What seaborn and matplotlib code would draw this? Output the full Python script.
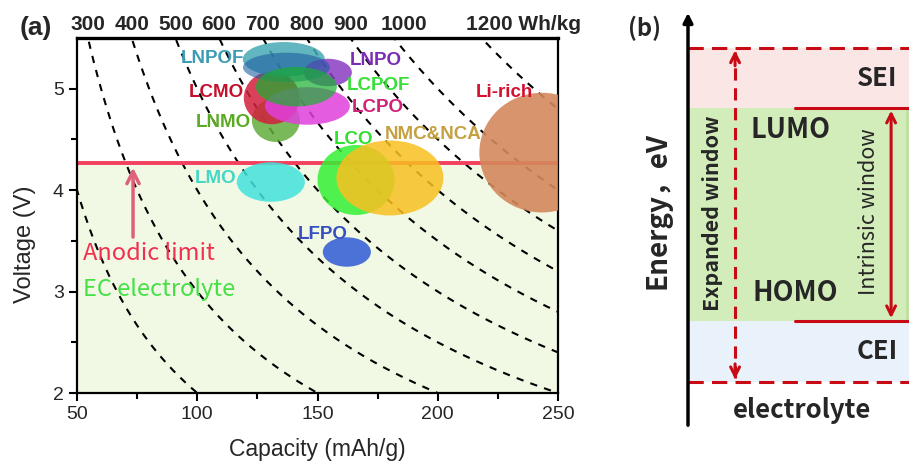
import numpy as np
import pandas as pd
import seaborn as sns
import matplotlib.pyplot as plt
from matplotlib.patches import Ellipse

# ---- panel (a) data ----
energy_levels = [200, 300, 400, 500, 600, 700, 800, 900, 1000, 1200]   # Wh/kg iso-lines
top_labels = ["300", "400", "500", "600", "700", "800", "900", "1000", "1200 Wh/kg"]
top_label_energy = [300, 400, 500, 600, 700, 800, 900, 1000, 1200]

bubble_names = ["LNMO", "LCMO", "LCPO", "LNPOF", "LNPO", "LNPOF-2", "LCPOF",
                "LMO", "LCO", "NMC&NCA", "LFPO", "Li-rich"]
bubble_cap = [132.7, 131.0, 145.8, 136.0, 154.3, 137.1, 141.2, 130.6, 166.0, 180.1, 162.2, 243.3]
bubble_volt = [4.69, 4.91, 4.83, 5.29, 5.16, 5.21, 5.02, 4.08, 4.10, 4.12, 3.39, 4.37]
bubble_cap_span = [20.0, 23.3, 35.3, 34.1, 20.0, 36.2, 33.7, 28.3, 32.0, 44.5, 20.0, 52.0]
bubble_volt_span = [0.43, 0.52, 0.37, 0.34, 0.27, 0.29, 0.39, 0.39, 0.69, 0.74, 0.29, 1.18]

label_names = ["LNPOF", "LNPO", "LCMO", "LCPOF", "LCPO", "LNMO", "LMO", "LCO",
               "NMC&NCA", "LFPO", "Li-rich"]
label_cap = [106.3, 174.3, 108.0, 175.5, 175.1, 110.9, 107.8, 165.1, 198.0, 152.2, 227.9]
label_volt = [5.30, 5.28, 4.96, 5.035, 4.81, 4.67, 4.11, 4.50, 4.55, 3.56, 4.96]

anodic_limit = 4.27
arrow_cap = 73.3
arrow_from = 3.51

# ---- panel (b) data (arbitrary energy units) ----
cei_bottom = 1.10
homo_level = 2.56
lumo_level = 7.66
sei_top = 9.10

# colours
bubble_colors = {"LNMO": "#62ad3c", "LCMO": "#d2203c", "LCPO": "#e040dc", "LNPOF": "#45a9b4",
                 "LNPO": "#8a3cc4", "LNPOF-2": "#1f5fa0", "LCPOF": "#18b030", "LMO": "#42e2dc",
                 "LCO": "#34f034", "NMC&NCA": "#f8c020", "LFPO": "#3a62d6", "Li-rich": "#d4885c"}
bubble_alpha = {"LNMO": 0.85, "LCMO": 0.85, "LCPO": 0.85, "LNPOF": 0.85, "LNPO": 0.85,
                "LNPOF-2": 0.6, "LCPOF": 0.7, "LMO": 0.85, "LCO": 0.85, "NMC&NCA": 0.85,
                "LFPO": 0.9, "Li-rich": 0.9}
label_colors = {"LNPOF": "#3d9cb2", "LNPO": "#7a2cb4", "LCMO": "#c4102c", "LCPOF": "#36e036",
                "LCPO": "#d0207a", "LNMO": "#5aaa22", "LMO": "#44d8c4", "LCO": "#30e030",
                "NMC&NCA": "#c4a040", "LFPO": "#3550c0", "Li-rich": "#d41030"}
RED = "#c80a14"

sns.set_theme(style="ticks")
plt.rcParams['font.family'] = ['Liberation Sans', 'DejaVu Sans']

fig = plt.figure(figsize=(9.09, 4.65), dpi=100)
ax = fig.add_axes([77 / 909, (465 - 393) / 465, 481 / 909, 355 / 465])

# background regions
ax.axhspan(2, anodic_limit, color="#f1f9e5", zorder=0, lw=0)

# iso-energy dashed curves V = E / C
cap_grid = np.linspace(40, 260, 400)
curves = pd.DataFrame([(e, c, e / c) for e in energy_levels for c in cap_grid],
                      columns=["energy", "capacity", "voltage"])
sns.lineplot(data=curves, x="capacity", y="voltage", units="energy", estimator=None,
             color="black", lw=1.5, linestyle=(0, (3.5, 3.5)), ax=ax, zorder=1)

ax.axhline(anodic_limit, color="#f2405e", lw=2.8, zorder=2)

for name, c, v, w, h in zip(bubble_names, bubble_cap, bubble_volt, bubble_cap_span, bubble_volt_span):
    ax.add_patch(Ellipse((c, v), w, h, facecolor=bubble_colors[name], edgecolor="none",
                         alpha=bubble_alpha[name], zorder=3))

for name, c, v in zip(label_names, label_cap, label_volt):
    ax.text(c, v, name, color=label_colors[name], fontsize=13.5, fontweight="bold",
            ha="center", va="center", zorder=4)

ax.annotate("", xy=(arrow_cap, anodic_limit - 0.02), xytext=(arrow_cap, arrow_from),
            arrowprops=dict(arrowstyle="->", color="#e0607a", lw=2.5, mutation_scale=22), zorder=2)
ax.text(52.5, 3.38, "Anodic limit", color="#f2304e", fontsize=17, ha="left", va="center",
        family=["Noto Sans CJK SC", "DejaVu Sans"])
ax.text(52.5, 3.02, "EC electrolyte", color="#44e044", fontsize=17, ha="left", va="center",
        family=["Noto Sans CJK SC", "DejaVu Sans"])

for lab, e in zip(top_labels, top_label_energy):
    if lab.startswith("1200"):
        ax.annotate(lab, xy=(e / 5.5, 5.5), xytext=(-11, 3), textcoords="offset points",
                    ha="left", va="bottom", fontsize=15, fontweight="bold")
    else:
        dx = 7 if e == 1000 else 0
        ax.annotate(lab, xy=(e / 5.5, 5.5), xytext=(dx, 3), textcoords="offset points",
                    ha="center", va="bottom", fontsize=15, fontweight="bold")

ax.set_xlim(50, 250)
ax.set_ylim(2, 5.5)
ax.set_xticks([50, 100, 150, 200, 250])
ax.set_xticks([75, 125, 175, 225], minor=True)
ax.set_yticks([2, 3, 4, 5])
ax.set_yticks([2.5, 3.5, 4.5], minor=True)
ax.tick_params(which="major", direction="out", length=6, width=1.5, labelsize=14, color="black")
ax.tick_params(which="minor", direction="out", length=4, width=1.5, color="black")
for s in ax.spines.values():
    s.set_linewidth(1.6)
    s.set_color("black")
ax.spines["top"].set_linewidth(2.4)
ax.set_xlabel("Capacity (mAh/g)", fontsize=16.5)
ax.set_ylabel("Voltage (V)", fontsize=17)
ax.xaxis.set_label_coords(0.5, -0.16)
ax.yaxis.set_label_coords(-0.108, 0.42)
ax.xaxis.label.set_va("center")
ax.yaxis.label.set_va("center")
fig.text(36 / 909, 1 - 28 / 465, "(a)", fontsize=19, fontweight="bold", ha="center", va="center")

# ---- panel (b) ----
bx = fig.add_axes([688 / 909, (465 - 428) / 465, 221 / 909, 418 / 465])
bx.set_xlim(0, 1)
bx.set_ylim(0, 10)
bx.axis("off")
cjk = ["Noto Sans CJK SC", "DejaVu Sans"]

bx.fill_between([0, 1], cei_bottom, homo_level, color="#e9f2fa", lw=0)
bx.fill_between([0, 1], homo_level, lumo_level, color="#d3edba", lw=0)
bx.fill_between([0, 1], lumo_level, sei_top, color="#fbe6e6", lw=0)
bx.fill_between([0.985, 1], homo_level, lumo_level, color="#c2e0a2", lw=0)

for lvl in [cei_bottom, sei_top]:
    bx.plot([0, 1], [lvl, lvl], color=RED, lw=2.2, linestyle=(0, (5, 2.7)))
for lvl in [homo_level, lumo_level]:
    bx.plot([0.484, 1], [lvl, lvl], color=RED, lw=2.2)

# expanded window (dashed, two heads)
bx.plot([0.213, 0.213], [cei_bottom + 0.1, sei_top - 0.1], color=RED, lw=2.2,
        linestyle=(0, (4, 2.5)))
bx.annotate("", xy=(0.213, sei_top), xytext=(0.213, sei_top - 0.5),
            arrowprops=dict(arrowstyle="->", color=RED, lw=2.2, mutation_scale=16))
bx.annotate("", xy=(0.213, cei_bottom), xytext=(0.213, cei_bottom + 0.5),
            arrowprops=dict(arrowstyle="->", color=RED, lw=2.2, mutation_scale=16))
# intrinsic window
bx.annotate("", xy=(0.919, lumo_level), xytext=(0.919, homo_level),
            arrowprops=dict(arrowstyle="<->", color=RED, lw=2.2, mutation_scale=16))

# energy axis
bx.annotate("", xy=(0, 10), xytext=(0, 0), annotation_clip=False,
            arrowprops=dict(arrowstyle="-|>", color="black", lw=2.5, mutation_scale=14))

bx.text(0.855, 8.37, "SEI", fontsize=18.5, fontweight="bold", ha="center", va="center", family=cjk)
bx.text(0.466, 7.13, "LUMO", fontsize=19.5, fontweight="bold", ha="center", va="center", family=cjk)
bx.text(0.484, 3.23, "HOMO", fontsize=19.5, fontweight="bold", ha="center", va="center", family=cjk)
bx.text(0.855, 1.82, "CEI", fontsize=18.5, fontweight="bold", ha="center", va="center", family=cjk)
bx.text(0.516, 0.43, "electrolyte", fontsize=18.5, fontweight="bold", ha="center", va="center",
        family=cjk, clip_on=False)
bx.text(0.113, 5.14, "Expanded window", fontsize=15.5, fontweight="bold", rotation=90,
        ha="center", va="center", family=cjk)
bx.text(0.819, 5.17, "Intrinsic window", fontsize=15.5, fontweight="medium", rotation=90,
        ha="center", va="center", family=cjk)
bx.text(-0.136, 5.2, "Energy，eV", fontsize=20, fontweight="bold", rotation=90,
        ha="center", va="center", family=cjk, clip_on=False)
bx.text(-0.195, 9.57, "(b)", fontsize=17, fontweight="bold", ha="center", va="center",
        family=cjk, clip_on=False)

fig.savefig("out.png", dpi=100)
